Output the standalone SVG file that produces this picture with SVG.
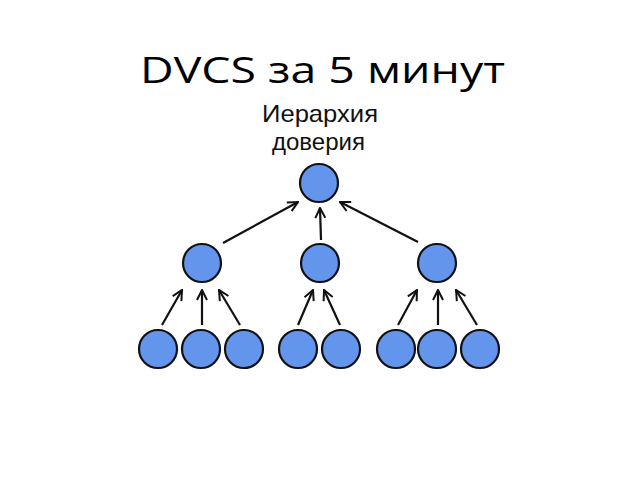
<svg xmlns="http://www.w3.org/2000/svg" width="640" height="480" viewBox="0 0 640 480">
<defs>
<style>
.n{fill:#6495ED;stroke:#111;stroke-width:2.2}
.e{stroke:#111;stroke-width:2.2;fill:none;marker-end:url(#ah)}
.t{font-family:"Open Sans","Liberation Sans",sans-serif;fill:#000}
.s{font-family:"Liberation Sans",Arial,sans-serif;fill:#111}
</style>
<marker id="ah" viewBox="0 0 12 12" refX="11" refY="6" markerWidth="12" markerHeight="12" markerUnits="userSpaceOnUse" orient="auto">
<polyline points="1,1 11,6 1,11" fill="none" stroke="#111" stroke-width="2"/>
</marker>
</defs>
<rect width="640" height="480" fill="#fff"/>
<text class="t" x="140" y="83" font-size="36" textLength="365" lengthAdjust="spacingAndGlyphs">DVCS за 5 минут</text>
<text class="s" x="262" y="122" font-size="24" textLength="116" lengthAdjust="spacingAndGlyphs">Иерархия</text>
<text class="s" x="272" y="150" font-size="24" textLength="93" lengthAdjust="spacingAndGlyphs">доверия</text>
<g id="connectors">
<line class="e" x1="223" y1="243" x2="298" y2="202"/>
<line class="e" x1="321" y1="240" x2="320" y2="208"/>
<line class="e" x1="418" y1="242" x2="340" y2="202"/>
<line class="e" x1="162" y1="325" x2="182" y2="290"/>
<line class="e" x1="202" y1="325" x2="202" y2="290"/>
<line class="e" x1="240" y1="325" x2="219" y2="290"/>
<line class="e" x1="298" y1="325" x2="313" y2="290"/>
<line class="e" x1="340" y1="325" x2="324" y2="290"/>
<line class="e" x1="398" y1="325" x2="417" y2="290"/>
<line class="e" x1="438" y1="325" x2="438" y2="290"/>
<line class="e" x1="477" y1="325" x2="456" y2="290"/>
</g>
<g id="root"><circle class="n" cx="319" cy="183" r="19"/></g>
<g id="m1"><circle class="n" cx="202" cy="263" r="19"/></g>
<g id="m2"><circle class="n" cx="320" cy="263" r="19"/></g>
<g id="m3"><circle class="n" cx="437" cy="263" r="19"/></g>
<g id="b1"><circle class="n" cx="158" cy="349" r="19"/></g>
<g id="b2"><circle class="n" cx="201" cy="349" r="19"/></g>
<g id="b3"><circle class="n" cx="244" cy="349" r="19"/></g>
<g id="b4"><circle class="n" cx="298" cy="349" r="19"/></g>
<g id="b5"><circle class="n" cx="341" cy="349" r="19"/></g>
<g id="b6"><circle class="n" cx="396" cy="349" r="19"/></g>
<g id="b7"><circle class="n" cx="437" cy="349" r="19"/></g>
<g id="b8"><circle class="n" cx="480" cy="349" r="19"/></g>
</svg>
